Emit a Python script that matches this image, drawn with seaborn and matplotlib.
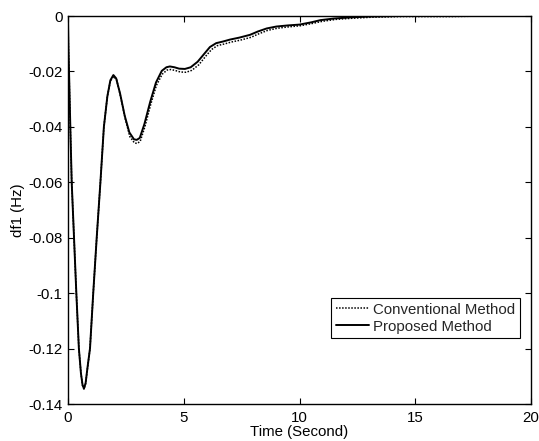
import numpy as np
import pandas as pd
import matplotlib
matplotlib.use("Agg")
import matplotlib.pyplot as plt
import seaborn as sns

# Proposed method (solid)
t_prop = [0.0, 0.02, 0.05, 0.1, 0.16, 0.26, 0.36, 0.47, 0.56, 0.63, 0.69, 0.76, 0.84, 0.95,
          1.09, 1.24, 1.4, 1.55, 1.7, 1.83, 1.96, 2.08, 2.25, 2.45, 2.65, 2.85, 2.97, 3.1,
          3.3, 3.55, 3.8, 4.05, 4.25, 4.4, 4.6, 4.8, 5.05, 5.3, 5.6, 5.9, 6.13, 6.4, 6.7,
          7.0, 7.4, 7.86, 8.2, 8.58, 9.0, 9.5, 10.0, 10.5, 10.9, 11.5, 12.2, 13.0, 14.3,
          16.0, 18.0, 20.0]
v_prop = [-0.002, -0.012, -0.022, -0.04, -0.06, -0.08, -0.1, -0.12, -0.129, -0.1332, -0.1344,
          -0.1325, -0.127, -0.12, -0.1, -0.08, -0.06, -0.04, -0.029, -0.0232, -0.0213, -0.0225,
          -0.028, -0.036, -0.042, -0.0445, -0.0447, -0.0440, -0.039, -0.031, -0.024, -0.0198,
          -0.0185, -0.0182, -0.0185, -0.019, -0.0191, -0.0185, -0.0165, -0.0135, -0.0112,
          -0.0098, -0.0092, -0.0085, -0.0078, -0.0068, -0.0056, -0.0045, -0.0038, -0.0034,
          -0.0031, -0.0023, -0.0015, -0.0009, -0.0005, -0.0002, 0.0, 0.0, 0.0, 0.0]

# Conventional method (dotted)
t_conv = [0.0, 0.02, 0.05, 0.1, 0.16, 0.26, 0.36, 0.47, 0.56, 0.63, 0.69, 0.76, 0.84, 0.95,
          1.09, 1.24, 1.4, 1.55, 1.7, 1.83, 1.97, 2.1, 2.27, 2.47, 2.67, 2.87, 2.99, 3.12,
          3.32, 3.57, 3.82, 4.07, 4.28, 4.45, 4.65, 4.85, 5.1, 5.35, 5.65, 5.95, 6.2, 6.45,
          6.75, 7.05, 7.45, 7.9, 8.25, 8.62, 9.05, 9.55, 10.05, 10.55, 11.0, 11.6, 12.3,
          13.2, 14.5, 16.6, 18.0, 20.0]
v_conv = [-0.002, -0.012, -0.022, -0.04, -0.06, -0.08, -0.1, -0.12, -0.129, -0.1334, -0.1346,
          -0.1327, -0.1272, -0.12, -0.1, -0.08, -0.06, -0.04, -0.029, -0.0235, -0.0218, -0.023,
          -0.029, -0.037, -0.0435, -0.0458, -0.046, -0.0452, -0.040, -0.032, -0.025, -0.021,
          -0.0195, -0.0193, -0.0197, -0.0202, -0.0203, -0.0196, -0.0176, -0.0145, -0.0121,
          -0.0107, -0.0101, -0.0094, -0.0087, -0.0077, -0.0064, -0.0052, -0.0044, -0.0039,
          -0.0035, -0.0027, -0.0019, -0.0012, -0.0008, -0.0004, -0.0002, -0.0002, 0.0, 0.0]

x_ticks = [0, 5, 10, 15, 20]
x_ticklabels = ["0", "5", "10", "15", "20"]
y_ticks = [-0.14, -0.12, -0.1, -0.08, -0.06, -0.04, -0.02, 0]
y_ticklabels = ["-0.14", "-0.12", "-0.1", "-0.08", "-0.06", "-0.04", "-0.02", "0"]

sns.set_theme(style="white")
plt.rcParams["font.family"] = ["Liberation Sans", "DejaVu Sans"]
FS = 10.8
plt.rcParams["font.size"] = FS

df_conv = pd.DataFrame({"t": t_conv, "v": v_conv})
df_prop = pd.DataFrame({"t": t_prop, "v": v_prop})

fig = plt.figure(figsize=(5.39, 4.41), dpi=100)
ax = fig.add_axes([68 / 539, 1 - 404 / 441, 463 / 539, 388 / 441])

sns.lineplot(data=df_conv, x="t", y="v", ax=ax, color="black", linestyle=(0, (1, 1)),
             linewidth=1.1, label="Conventional Method", sort=False)
sns.lineplot(data=df_prop, x="t", y="v", ax=ax, color="black", linestyle="-",
             linewidth=1.4, label="Proposed Method", sort=False)

ax.set_xlim(0, 20)
ax.set_ylim(-0.14, 0)
ax.set_xticks(x_ticks)
ax.set_xticklabels(x_ticklabels)
ax.set_yticks(y_ticks)
ax.set_yticklabels(y_ticklabels)
ax.tick_params(direction="in", length=4, width=0.8, color="black", labelsize=FS,
               top=True, right=True, bottom=True, left=True, labelcolor="black")
ax.tick_params(axis="x", pad=5)
ax.tick_params(axis="y", pad=4)
for s in ax.spines.values():
    s.set_visible(True)
    s.set_color("black")
    s.set_linewidth(1.0)

ax.set_xlabel("Time (Second)", fontsize=FS, labelpad=0, color="black")
ax.set_ylabel("df1 (Hz)", fontsize=FS, labelpad=2, color="black")

leg = ax.legend(loc="lower right", bbox_to_anchor=(0.976, 0.17), borderaxespad=0,
                frameon=True, fancybox=False, fontsize=FS, handlelength=2.2,
                handletextpad=0.3, borderpad=0.3, labelspacing=0.2)
leg.get_frame().set_edgecolor("black")
leg.get_frame().set_linewidth(0.8)
leg.get_frame().set_alpha(1)

fig.savefig("out.png", dpi=100)
